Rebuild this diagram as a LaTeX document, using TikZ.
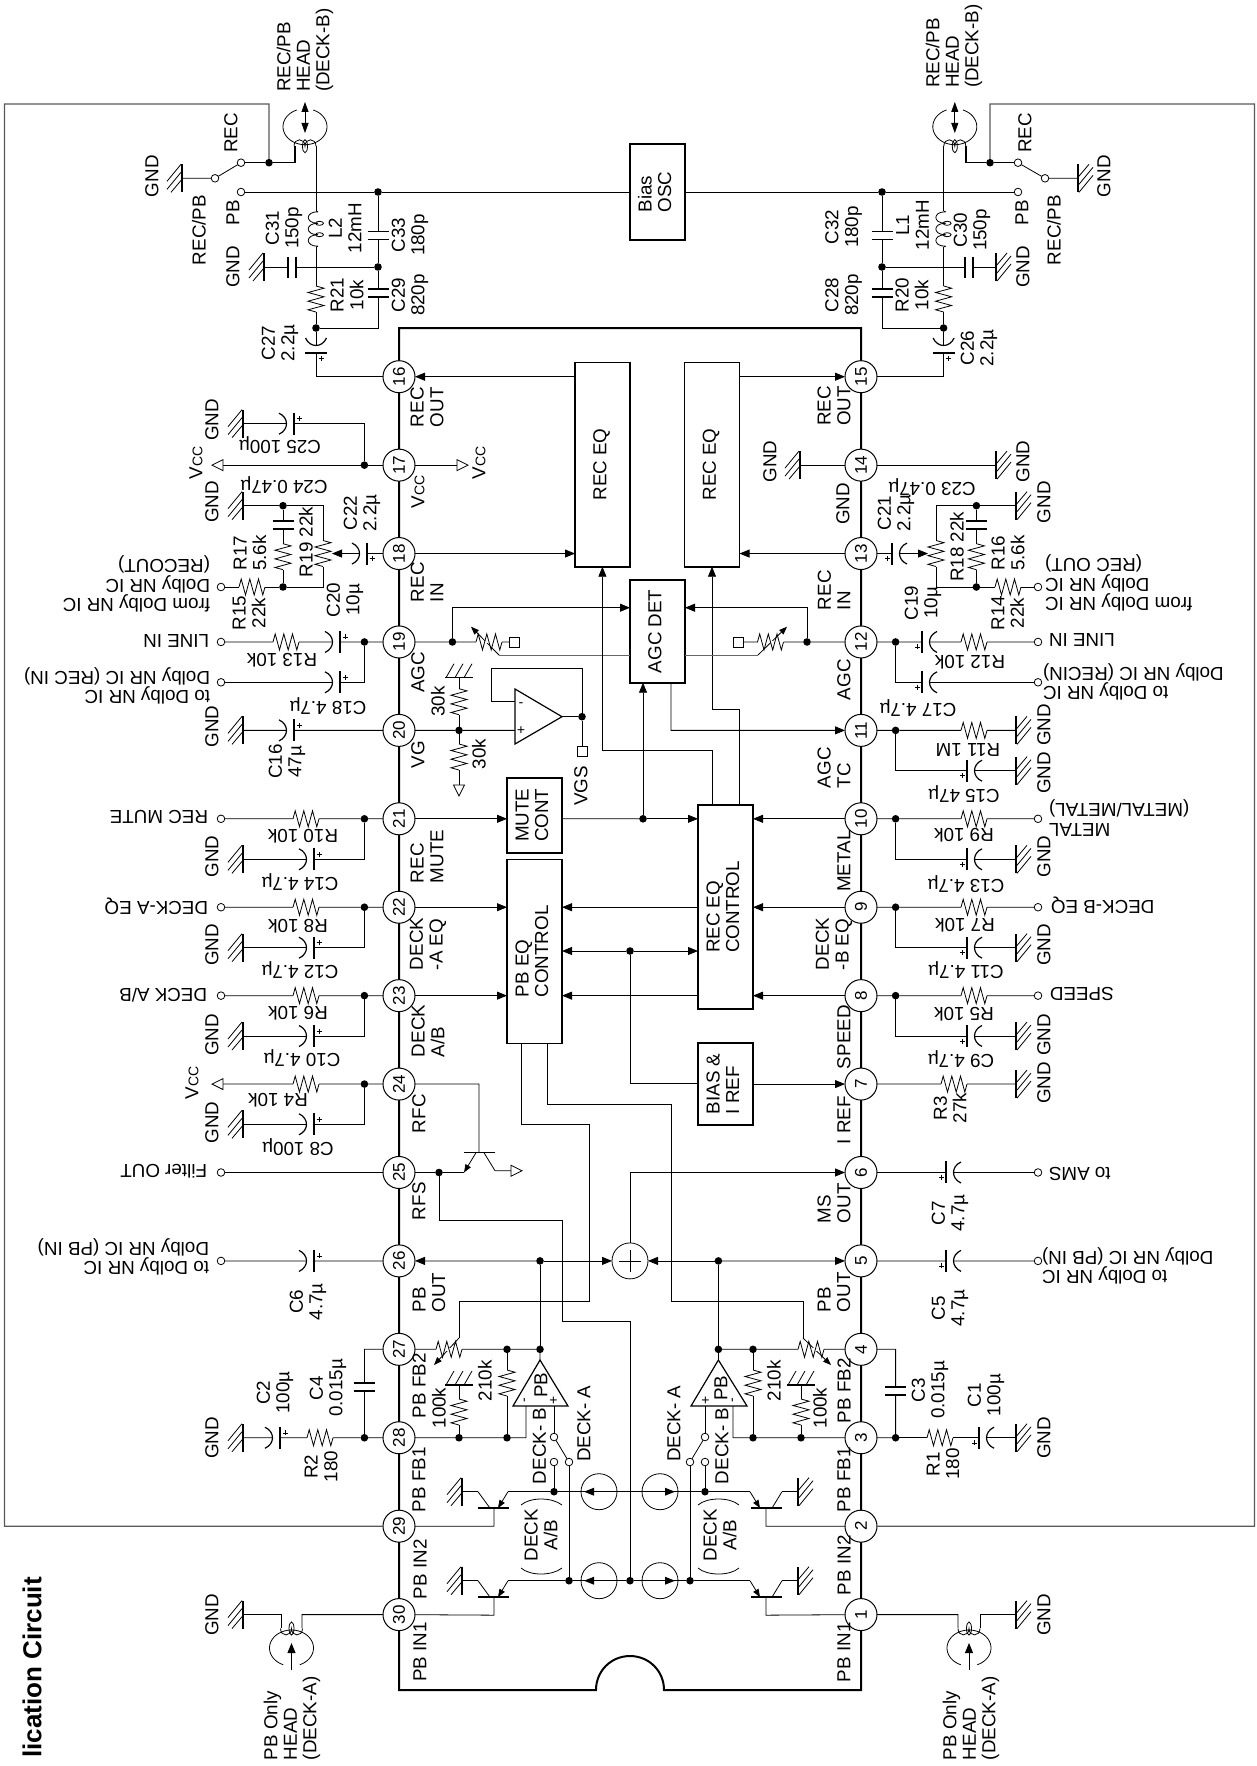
\documentclass[tikz,border=0pt]{standalone}
\usepackage{fontspec}
\setmainfont{Liberation Sans}
\usetikzlibrary{arrows.meta,calc}
\newcount\tn
\newcommand\lf{\fontsize{18.8}{19.6}\selectfont}
\newcommand\VccT{V{\fontsize{14}{14}\selectfont CC}}
\tikzset{
 arr/.style={-{Triangle[length=10pt,width=8pt]}},
 arrs/.style={-{Triangle[length=8pt,width=6pt]}},
 gbox/.style={draw=black!65,line width=1.2pt},
 jn/.style={circle,fill=black,inner sep=0pt,outer sep=0pt,minimum size=7.6pt},
 term/.style={circle,draw,fill=white,inner sep=0pt,outer sep=0pt,minimum size=7.6pt},
 sq/.style={rectangle,draw,fill=white,inner sep=0pt,outer sep=0pt,minimum size=10pt},
 ppin/.style={circle,draw,fill=white,inner sep=0pt,outer sep=0pt,minimum size=32pt,font=\fontsize{17}{17}\selectfont,line width=1pt},
 blk/.style={rectangle,draw,line width=1.6pt,inner sep=0pt,outer sep=0pt,font=\lf,minimum width=55pt},
 srcn/.style={circle,draw,inner sep=0pt,outer sep=0pt,minimum size=36pt},
 lab/.style={font=\lf,inner sep=0pt,outer sep=0pt},
 plate/.style={line width=1.5pt},
 amp/.style={line width=1.2pt},
}
% text
\newcommand\TU[3]{\global\advance\tn by 1\relax\node[lab,rotate=90,anchor=west,align=left] (t\the\tn) at (#1,#2) {#3};}
\newcommand\TC[3]{\global\advance\tn by 1\relax\node[lab,rotate=90,anchor=center,align=center] (t\the\tn) at (#1,#2) {#3};}
\newcommand\TD[3]{\global\advance\tn by 1\relax\node[lab,rotate=180,anchor=center,align=center] (t\the\tn) at (#1,#2) {#3};}
\newcommand\TDr[3]{\global\advance\tn by 1\relax\node[lab,rotate=180,anchor=west,align=left] (t\the\tn) at (#1,#2) {#3};}
\newcommand\TDl[3]{\global\advance\tn by 1\relax\node[lab,rotate=180,anchor=east,align=right] (t\the\tn) at (#1,#2) {#3};}
\newcommand\Rt[1]{\rotatebox{90}{\begin{tabular}{@{}l@{}}#1\end{tabular}}}
% named parts
\newcommand\Jn[3]{\node[jn] (#1) at (#2,#3) {};}
\newcommand\Tm[3]{\node[term] (#1) at (#2,#3) {};}
\newcommand\Gl[3]{\coordinate (#1) at (#2,#3);\begin{scope}[shift={(#2,#3)}]\draw[line width=1.3pt](0,-14)--(0,14);\draw(-1,-14)--(-15,3)(-1,-6)--(-15,11)(0,1)--(-11,14);\end{scope}}
\newcommand\Gr[3]{\coordinate (#1) at (#2,#3);\begin{scope}[shift={(#2,#3)},rotate=180]\draw[line width=1.3pt](0,-14)--(0,14);\draw(-1,-14)--(-15,3)(-1,-6)--(-15,11)(0,1)--(-11,14);\end{scope}}
\newcommand\Gv[3]{\coordinate (#1) at (#2,#3);\begin{scope}[shift={(#2,#3)}]\draw[line width=1.3pt](-14,0)--(14,0);\draw(-13,0)--(-5,-14)(-4,0)--(4,-14)(5,0)--(13,-14);\end{scope}}
% inline parts
\newcommand\Rh[2]{\begin{scope}[shift={(#1,#2)}]\fill[white](-13,-1.2)rectangle(13,1.2);\draw(-13,0)--(-10.8,-8)--(-6.5,8)--(-2.2,-8)--(2.2,8)--(6.5,-8)--(10.8,8)--(13,0);\end{scope}}
\newcommand\Rv[2]{\begin{scope}[shift={(#1,#2)}]\fill[white](-1.2,-13)rectangle(1.2,13);\draw(0,-13)--(8,-10.8)--(-8,-6.5)--(8,-2.2)--(-8,2.2)--(8,6.5)--(-8,10.8)--(0,13);\end{scope}}
\newcommand\Ch[2]{\begin{scope}[shift={(#1,#2)}]\fill[white](-4,-1.2)rectangle(4,1.2);\draw[plate](-4,-10.5)--(-4,10.5)(4,-10.5)--(4,10.5);\end{scope}}
\newcommand\Cv[2]{\begin{scope}[shift={(#1,#2)}]\fill[white](-1.2,-4)rectangle(1.2,4);\draw[plate](-10.5,-4)--(10.5,-4)(-10.5,4)--(10.5,4);\end{scope}}
\newcommand\PCh[4]{\begin{scope}[shift={(#1,#2)},xscale=#3]\fill[white](-7.5,-1.2)rectangle(0,1.2);\draw[plate](0,-11)--(0,11);\draw[line width=1.2pt](-15,-10.5)..controls(-5,-6)and(-5,6)..(-15,10.5);\draw[line width=.45pt](2.5,#4*5)--(7.5,#4*5)(5,#4*5-2.5)--(5,#4*5+2.5);\end{scope}}
\newcommand\PCv[2]{\begin{scope}[shift={(#1,#2)}]\fill[white](-1.2,-7.5)rectangle(1.2,0);\draw[plate](-11,0)--(11,0);\draw[line width=1.2pt](-10.5,-15)..controls(-6,-5)and(6,-5)..(10.5,-15);\draw[line width=.45pt](2.5,5)--(7.5,5)(5,2.5)--(5,7.5);\end{scope}}
\newcommand\Lv[2]{\begin{scope}[shift={(#1,#2)}]\fill[white](-1.2,-18)rectangle(1.2,18);\foreach \c in {-11.5,0,11.5}{\draw(2,\c-5.7)..controls(-11,\c-6)and(-11,\c+6)..(2,\c+5.7);}\foreach \c in {-5.7,5.7}{\draw(3.5,\c) ellipse (4 and 2);}\draw(0,-18)--(2,-17.2)(0,18)--(2,17.2);\end{scope}}
\newcommand\VT[3]{\begin{scope}[shift={(#1,#2)}]\draw[fill=white](0,-5.5)--(0,5.5)--(#3,0)--cycle;\end{scope}}
\newcommand\Head[3]{\begin{scope}[shift={(#1,#2)},yscale=#3]\draw plot[domain=-68:248,samples=50,smooth]({22*cos(\x)},{18*sin(\x)});\draw(-11,19.5)..controls(-11,11)and(0,11)..(0,19.5)..controls(0,11)and(11,11)..(11,19.5);\draw(0,19.5) ellipse (2.5 and 6.5);\end{scope}}
\newcommand\QL[2]{\begin{scope}[shift={(0,#1)}]\draw[line width=1.5pt](478,16.4)--(509,16.4);\draw[arrs](508,0)--(498,16.4);\draw(490,16.4)--(478,0);\end{scope}\draw (494,#1+16.4)--(494,#1+34.46)--(#2);}
\newcommand\QR[2]{\begin{scope}[shift={(0,#1)}]\draw[line width=1.5pt](751,16.4)--(782,16.4);\draw[arrs](750,0)--(760,16.4);\draw(772,16.4)--(782,0);\end{scope}\draw (766,#1+16.4)--(766,#1+34.46)--(#2);}
\begin{document}
\begin{tikzpicture}[x=1pt,y=-1pt,line width=.8pt]
\useasboundingbox (0,0) rectangle (1256,1766);
% IC body
\draw[line width=2pt] (399,328)--(861,328)--(861,1690)--(664,1690)..controls(664,1671)and(649,1656)..(630,1656)..controls(611,1656)and(596,1671)..(596,1690)--(399,1690)--cycle;
% pins
\foreach \n in {16,...,30}{\pgfmathsetmacro\yy{376.7+(\n-16)*88.42}\node[ppin] (p\n) at (399,\yy) {\rotatebox{90}{\n}};}
\foreach \n in {1,...,15}{\pgfmathsetmacro\yy{376.7+(15-\n)*88.42}\node[ppin] (p\n) at (861,\yy) {\rotatebox{90}{\n}};}
% blocks
\node[blk,minimum height=204.4pt] (recL) at (602.5,464.5) {\Rt{REC EQ}};
\node[blk,minimum height=204.4pt] (recR) at (712,464.5) {\Rt{REC EQ}};
\node[blk,minimum height=102.7pt] (agc) at (657.5,631.35) {\Rt{AGC DET}};
\node[blk,minimum height=96pt] (bias) at (657.5,192) {\Rt{Bias\\OSC}};
\node[blk,minimum height=75pt] (mute) at (534.5,815.2) {\Rt{MUTE\\CONT}};
\node[blk,minimum height=184pt] (pbeq) at (534.5,951.3) {\Rt{PB EQ\\CONTROL}};
\node[blk,minimum height=204pt] (receq) at (725.5,907) {\Rt{REC EQ\\CONTROL}};
\node[blk,minimum height=82.3pt] (biasref) at (725.5,1083.85) {\Rt{BIAS \&\\I REF}};
\node[srcn] (sum) at (630,1260.9) {};
\node[srcn] (cs1) at (599,1491.7) {};
\node[srcn] (cs2) at (660,1491.7) {};
\node[srcn] (cs3) at (599,1580.7) {};
\node[srcn] (cs4) at (660,1580.7) {};
% junctions left
\Jn{jL}{269}{162.7}\Jn{jB}{378}{192}\Jn{jC}{378}{267}\Jn{jD}{316}{328}\Jn{j17}{364.4}{465.12}
\Jn{jE}{283}{505.7}\Jn{jF}{283}{587}\Jn{j19}{364.4}{641.96}\Jn{jAg}{452.4}{641.96}\Jn{j20}{459}{730.38}
\Jn{joa}{582}{716.7}\Jn{j21}{364.4}{818.8}\Jn{j22}{364.4}{907.22}\Jn{j23}{364.4}{995.64}\Jn{j24}{364.4}{1084.06}
\Jn{j25}{439}{1172.48}\Jn{j26}{540}{1260.9}\Jn{j27a}{507}{1349.32}\Jn{j27b}{540}{1349.32}\Jn{j28}{364.4}{1437.74}
\Jn{j28b}{459}{1437.74}\Jn{j28c}{507}{1437.74}\Jn{jq2}{554}{1491.7}\Jn{jq1}{569}{1580.7}\Jn{jm}{630}{1580.7}
\Jn{jc}{630}{951}\Jn{jm2}{643}{818.8}
% junctions right
\Jn{jRs}{990}{162.7}\Jn{jRB}{882}{192}\Jn{jRC}{882}{267}\Jn{jRD}{943.6}{328}\Jn{jr12}{895.6}{641.96}\Jn{jr11}{895.6}{730.38}
\Jn{jr10}{895.6}{818.8}\Jn{jr9}{895.6}{907.22}\Jn{jr8}{895.6}{995.64}\Jn{jr3}{895.6}{1437.74}\Jn{jRE}{976.4}{505.7}\Jn{jRF}{976.4}{587}
\Jn{jAg2}{807}{641.96}\Jn{jr5}{718.4}{1260.9}\Jn{jr4a}{753}{1349.32}\Jn{jr4b}{718.4}{1349.32}\Jn{jr3b}{801}{1437.74}\Jn{jr3c}{753}{1437.74}
\Jn{jrq2}{705}{1491.7}\Jn{jrq1}{690}{1580.7}
% terminals
\Tm{tREC}{241}{162.7}\Tm{tPB}{241}{192}\Tm{tPiv}{215}{178.3}\Tm{t18}{221}{587}\Tm{t19}{221}{641.96}\Tm{t19b}{221}{682.3}
\Tm{t21}{221}{818.8}\Tm{t22}{221}{907.22}\Tm{t23}{221}{995.64}\Tm{t25}{221}{1172.48}\Tm{t26}{221}{1260.9}
\Tm{rREC}{1018}{162.7}\Tm{rPB}{1018}{192}\Tm{rPiv}{1045}{178.3}\Tm{r13}{1038}{587}\Tm{r12}{1038}{641.96}\Tm{r12b}{1038}{682.3}
\Tm{r10}{1038}{818.8}\Tm{r9}{1038}{907.22}\Tm{r8}{1038}{995.64}\Tm{r6}{1038}{1172.48}\Tm{r5}{1038}{1260.9}
\Tm{tSp}{554}{1437}\Tm{tSa}{569}{1462}\Tm{tSb}{554}{1462}\Tm{rSp}{705}{1437}\Tm{rSa}{690}{1462}\Tm{rSb}{705}{1462}
\node[sq] (s19) at (514,641.96) {};
\node[sq] (s12) at (738.5,641.96) {};
\node[sq] (s20) at (582,751) {};
% grounds
\Gl{gSw}{182}{178.3}\Gl{g31}{264}{267}\Gl{g25}{243}{423.7}\Gl{g24}{243}{505.7}\Gl{g20}{243}{730.38}\Gl{gC14}{243}{859.3}\Gl{gC12}{243}{947.7}
\Gl{gC10}{243}{1036}\Gl{gC8}{243}{1124.3}\Gl{gC2}{243}{1437.74}\Gl{g30}{243}{1614.58}\Gl{gq2}{462}{1491.7}\Gl{gq1}{462}{1580.7}\Gl{g14L}{800}{465.12}
\Gv{g30k}{459}{677.7}\Gv{g100}{459}{1385}\Gv{gr100}{801}{1385}
\Gr{gRSw}{1078}{178.3}\Gr{gC30}{996}{267}\Gr{g14R}{996}{465.12}\Gr{gC23}{1016}{505.7}\Gr{gR11}{1016}{730.38}\Gr{gC15}{1016}{770.7}
\Gr{gC13}{1016}{859.3}\Gr{gC11}{1016}{947.7}\Gr{gC9}{1016}{1036}\Gr{gR3}{1016}{1084.06}\Gr{gC1}{1016}{1437.74}\Gr{g1}{1016}{1614.58}\Gr{grq2}{798}{1491.7}\Gr{grq1}{798}{1580.7}
% outer box
\draw[gbox] (p29)--(4.5,1526.16)--(4.5,104)--(269,104)--(jL);
\draw[gbox] (p2)--(1254.5,1526.16)--(1254.5,104)--(990,104)--(jRs);
% top left
\draw (gSw)--(tPiv)--(tREC);
\draw[line width=1.2pt] (tREC)--(jL)--(295,162.7)--(295,146);
\draw (tPB)--(jB)--(bias.west);
\draw (316,146)--(jD);
\draw (jB)--(jC)--(378,328)--(jD);
\draw (jC)--(g31);
\draw (jD)--(316,376.7)--(p16);
\draw[arr] (recL.west |- p16)--(p16);
% 17
\draw (g25)--(364.4,423.7)--(j17);
\draw (p17)--(j17)--(223,465.12);
\draw (p17)--(457,465.12);
% 18
\draw (g24)--(jE)--(323,505.7)--(323,587)--(jF)--(t18);
\draw (jE)--(jF);
\draw[arr] (p18)--(332,553.54);
\draw[arr] (p18)--(p18 -| recL.west);
% 19
\draw (t19)--(j19)--(p19);
\draw (t19b)--(364.4,682.3)--(j19);
\draw (p19)--(jAg)--(s19);
\draw[arr] (jAg) |- (agc.west |- 0,607.7);
\draw[draw=black!60] (agc.west |- 0,655)--(499,655);
\draw[arrs] (499,655)--(471,626.7);
% 20
\draw (g20)--(p20);
\draw (p20)--(j20)--(515,730.38);
\draw (j20)--(g30k);
\draw (j20)--(459,785);
\draw[amp] (515,689)--(562,716.7)--(515,744)--cycle;
\draw (562,716.7)--(joa)--(s20);
\draw (joa)--(582,668.3)--(491,668.3)--(491,701.7)--(515,701.7);
% 21-23
\draw (t21)--(j21)--(p21);
\draw (j21) |- (gC14);
\draw[arr] (p21)--(p21 -| mute.west);
\draw (p21 -| mute.east)--(jm2);
\draw[arr] (jm2)--(jm2 -| receq.west);
\draw[arr] (jm2)--(jm2 |- agc.south);
\draw (t22)--(j22)--(p22);
\draw (j22) |- (gC12);
\draw[arr] (p22)--(p22 -| pbeq.west);
\draw (t23)--(j23)--(p23);
\draw (j23) |- (gC10);
\draw[arr] (p23)--(p23 -| pbeq.west);
% 24,25
\draw (223,1084.06)--(j24)--(p24);
\draw (j24) |- (gC8);
\draw (p24)--(479,1084.06)--(479,1152.7);
\draw (t25)--(p25);
\draw (p25)--(j25)--(464,1172.48);
\draw[line width=1.5pt] (464,1152.7)--(495,1152.7);
\draw[arrs] (476,1152.7)--(464,1172.48);
\draw (484,1152.7)--(495,1170.7)--(511,1170.7);
\draw (j25)--(439,1220)--(562,1220)--(562,1321.7)--(630,1321.7)--(jm);
% 26
\draw (t26)--(p26);
\draw[arr] (j26)--(p26);
\draw[arr] (j26)--(sum);
\draw (j26)--(j27b);
\draw (sum.north)--(sum.north |- p6);
\draw[arr] (sum.north |- p6)--(p6);
\draw (p6)--(r6);
\draw (p5)--(r5);
\draw[arr] (jr5)--(p5);
\draw[arr] (jr5)--(sum);
\draw (jr5)--(jr4b);
% central right
\draw (biasref.west)--(630,1083.85)--(jc);
\draw[arr] (jc)--(jc -| pbeq.east);
\draw[arr] (jc)--(jc -| receq.west);
\draw[arr] (p9 -| receq.west)--(p9 -| pbeq.east);
\draw[arr] (p8 -| receq.west)--(p8 -| pbeq.east);
\draw[arr] (p10)--(p10 -| receq.east);
\draw[arr] (p9)--(p9 -| receq.east);
\draw[arr] (p8)--(p8 -| receq.east);
\draw[arr] (biasref.east |- p7)--(p7);
\draw (pbeq.south -| 521,0)--(521,1124)--(589,1124)--(589,1301.7)--(459,1301.7)--(459,1338);
\draw (pbeq.south -| 547,0)--(547,1104)--(671,1104)--(671,1301.7)--(803,1301.7)--(803,1338);
\draw[arrs] (459,1338)--(434,1365);
\draw[arrs] (803,1338)--(831,1365);
\draw[arr] (receq.north -| 712,0)--(712,750.7)--(602.4,750.7)--(recL.south -| 602.4,0);
\draw[arr] (receq.north -| 739,0)--(739,709.3)--(712,709.3)--(recR.south -| 712,0);
\draw[arr] (agc.south -| 671,0)--(671,730.38)--(p11);
% PB left
\draw (p27)--(364.4,1349.32)--(j28);
\draw (p27)--(j27a)--(j27b)--(540,1360);
\draw (j27a)--(j28c);
\draw (gC2)--(j28)--(p28);
\draw (p28)--(j28b)--(j28c)--(526,1437.74)--(526,1406);
\draw (j28b)--(g100);
\draw[amp] (513,1406)--(540,1360)--(568,1406)--cycle;
\draw (554,1406)--(tSp);
\draw (tSp)--(tSa);
\draw (tSb)--(jq2);
\draw (tSa)--(jq1);
\draw (jq2)--(jrq2);
\draw (jq1)--(jm)--(jrq1);
\draw (jq2)--(508,1491.7);
\draw (gq2)--(478,1491.7);
\draw (jq1)--(508,1580.7);
\draw (gq1)--(478,1580.7);
\QL{1491.7}{p29}
\QL{1580.7}{p30}
% PB right
\draw (p3)--(jr3);
\draw (jr3)--(gC1);
\draw (jr3)--(895.6,1349.32)--(p4);
\draw (p4)--(jr4a)--(jr4b)--(718.4,1360);
\draw (jr4a)--(jr3c);
\draw (p3)--(jr3b)--(jr3c)--(733,1437.74)--(733,1406);
\draw (jr3b)--(gr100);
\draw[amp] (691,1406)--(718.4,1360)--(747,1406)--cycle;
\draw (705,1406)--(rSp);
\draw (rSp)--(rSa);
\draw (rSb)--(jrq2);
\draw (rSa)--(jrq1);
\draw (jrq2)--(750,1491.7);
\draw (grq2)--(782,1491.7);
\draw (jrq1)--(750,1580.7);
\draw (grq1)--(782,1580.7);
\QR{1491.7}{p2}
\QR{1580.7}{p1}
% heads lower
\draw (g30)--(281,1614.58)--(281,1628);
\draw (p30)--(302,1614.58)--(302,1628);
\draw (g1)--(980,1614.58)--(980,1628);
\draw (p1)--(958,1614.58)--(958,1628);
\Head{291.5}{1648}{-1}
\Head{969}{1648}{-1}
\draw[arr] (291.5,1670)--(291.5,1643);
\draw[arr] (969,1670)--(969,1643);
% top right
\draw (gRSw)--(rPiv)--(rREC);
\draw[line width=1.2pt] (rREC)--(jRs)--(966,162.7)--(966,146);
\draw (bias.east)--(jRB)--(rPB);
\draw (943.6,146)--(jRD);
\draw (jRB)--(jRC)--(882,328)--(jRD);
\draw (jRC)--(gC30);
\draw (jRD)--(943.6,376.7)--(p15);
\draw[arr] (recR.east |- p15)--(p15);
\Head{305}{126.7}{1}
\Head{954.8}{126.7}{1}
\draw[{Triangle[length=10pt,width=7pt]}-{Triangle[length=10pt,width=7pt]}] (305,102)--(305,133);
\draw[{Triangle[length=10pt,width=7pt]}-{Triangle[length=10pt,width=7pt]}] (954.8,102)--(954.8,133);
% right rows
\draw (g14L)--(p14);
\draw (p14)--(g14R);
\draw[arr] (p13)--(p13 -| recR.east);
\draw[arr] (p13)--(928,553.54);
\draw (gC23)--(jRE)--(936,505.7)--(936,587)--(jRF)--(r13);
\draw (jRE)--(jRF);
\draw (r12)--(jr12)--(p12);
\draw (jr12)--(895.6,682.3)--(r12b);
\draw (p12)--(jAg2)--(s12);
\draw[arr] (jAg2) |- (agc.east |- 0,607.7);
\draw[draw=black!60] (agc.east |- 0,655)--(758,655);
\draw[arrs] (758,655)--(787,626.7);
\draw (p11)--(jr11)--(gR11);
\draw (jr11) |- (gC15);
\draw (p10)--(jr10)--(r10);
\draw (jr10) |- (gC13);
\draw (p9)--(jr9)--(r9);
\draw (jr9) |- (gC11);
\draw (p8)--(jr8)--(r8);
\draw (jr8) |- (gC9);
\draw (p7)--(gR3);
% source arrows
\foreach \yy in {1491.7,1580.7}{
\begin{scope}[shift={(0,\yy)}]
\fill (584,0)--(594,-4)--(594,4)--cycle;
\fill (675,0)--(665,-4)--(665,4)--cycle;
\end{scope}}
\draw[line width=.5pt] (619,1260.9)--(641,1260.9)(630,1250)--(630,1272);
% open triangles
\VT{223}{465.12}{-11}
\VT{457}{465.12}{11}
\VT{223}{1084.06}{-11}
\VT{511}{1170.7}{11}
\draw[fill=white] (453.5,785)--(464.5,785)--(459,796)--cycle;
% parens
\draw (521,1505)..controls(530,1497)and(552,1497)..(562,1505);
\draw (521,1568)..controls(530,1576)and(552,1576)..(562,1568);
\draw (698,1505)..controls(707,1497)and(730,1497)..(739,1505);
\draw (698,1568)..controls(707,1576)and(730,1576)..(739,1568);
% resistors
\Rv{316}{299}\Rv{943.6}{299}
\Rv{323}{553.5}\Rv{283}{556.7}\Rh{252}{587}\Rh{286}{641.96}
\Rv{459}{701.7}\Rv{459}{757}
\Rh{306}{818.8}\Rh{306}{907.22}\Rh{306}{995.64}\Rh{306}{1084.06}
\Rh{449}{1349.32}\Rv{507}{1383}\Rv{459}{1412}\Rh{320}{1437.74}
\Rh{489}{641.96}\Rh{770.5}{641.96}
\Rv{936}{553.5}\Rv{976.4}{556.7}\Rh{1008}{587}\Rh{974}{641.96}\Rh{974}{730.38}
\Rh{974}{818.8}\Rh{974}{907.22}\Rh{974}{995.64}\Rh{954}{1084.06}
\Rh{811}{1349.32}\Rv{753}{1383}\Rv{801}{1412}\Rh{940}{1437.74}
% inductors
\Lv{316}{229}\Lv{943.6}{229}
% non-polar caps
\Ch{292}{267}\Ch{969}{267}\Cv{378}{235.7}\Cv{378}{293}\Cv{882}{235.7}\Cv{882}{293}
\Cv{283}{525}\Cv{976.4}{525}\Cv{364.4}{1387}\Cv{895.6}{1391}
% polar caps
\PCv{316}{353}\PCv{943.6}{353}
\PCh{294}{423.7}{1}{-1}\PCh{367}{553.54}{1}{1}\PCh{892}{553.54}{-1}{1}
\PCh{340}{641.96}{1}{-1}\PCh{340}{682.3}{1}{-1}\PCh{294}{730.38}{1}{-1}
\PCh{314}{859.3}{1}{-1}\PCh{314}{947.7}{1}{-1}\PCh{314}{1036}{1}{-1}\PCh{314}{1124.3}{1}{-1}\PCh{314}{1260.9}{1}{-1}
\PCh{280}{1437.74}{1}{-1}
\PCh{922}{641.96}{-1}{1}\PCh{922}{682.3}{-1}{1}\PCh{967}{770.7}{-1}{1}\PCh{967}{859.3}{-1}{1}\PCh{967}{947.7}{-1}{1}\PCh{967}{1036}{-1}{1}
\PCh{946}{1172.48}{-1}{1}\PCh{946}{1260.9}{-1}{1}\PCh{979}{1437.74}{-1}{1}
% ---------- texts
\global\advance\tn by 1\relax\node[font=\fontsize{26}{28}\selectfont\bfseries,inner sep=0pt,rotate=90,anchor=east] (t\the\tn) at (32,1576.7) {lication Circuit};
\TU{305}{92}{REC/PB\\HEAD\\(DECK-B)}
\TU{954}{88}{REC/PB\\HEAD\\(DECK-B)}
\TU{292}{1760}{PB Only\\HEAD\\(DECK-A)}
\TU{971}{1760}{PB Only\\HEAD\\(DECK-A)}
\TU{152}{197}{GND}\TU{231}{153}{REC}\TU{233}{225}{PB}\TU{199}{265}{REC/PB}
\TU{1025}{153}{REC}\TU{1104}{197}{GND}\TU{1022}{225}{PB}\TU{1054}{265}{REC/PB}
\TC{233}{267}{GND}\TC{1023}{267}{GND}
\TC{284}{228}{C31\\150p}\TC{345}{228}{L2\\12mH}\TC{410}{235}{C33\\180p}\TC{347}{295}{R21\\10k}\TC{410}{295}{C29\\820p}\TC{280}{343}{C27\\2.2µ}
\TC{843.6}{227}{C32\\180p}\TC{912.5}{225}{L1\\12mH}\TC{972}{230}{C30\\150p}\TC{843.6}{295}{C28\\820p}\TC{912}{295}{R20\\10k}\TC{979}{348}{C26\\2.2µ}
% left column grounds
\TC{212}{420}{GND}\TC{212}{502}{GND}\TC{212}{726.7}{GND}\TC{212}{856.7}{GND}\TC{212}{945}{GND}\TC{212}{1035}{GND}\TC{212}{1122.7}{GND}\TC{212}{1438}{GND}\TC{212}{1615}{GND}
% right column grounds
\TC{770}{461.7}{GND}\TC{1023}{461.7}{GND}\TC{843}{504}{GND}\TC{1044}{502.3}{GND}\TC{1044}{725}{GND}\TC{1044}{773}{GND}\TC{1044}{856.7}{GND}\TC{1044}{945}{GND}\TC{1044}{1035}{GND}\TC{1044}{1083}{GND}\TC{1044}{1438}{GND}\TC{1044}{1615}{GND}
% pin labels left
\TU{427}{427}{REC\\OUT}\TC{418}{492}{\VccT}\TU{427}{602}{REC\\IN}\TU{418}{692.7}{AGC}\TU{418}{768}{VG}\TU{427}{883}{REC\\MUTE}
\TU{428}{970}{DECK\\-A EQ}\TU{428}{1057}{DECK\\A/B}\TU{419}{1133}{RFC}\TU{419}{1220}{RFS}\TU{429}{1312.3}{PB\\OUT}
\TU{419}{1418}{PB FB2}\TU{419}{1512}{PB FB1}\TU{420}{1599}{PB IN2}\TU{420}{1681.7}{PB IN1}
% pin labels right
\TU{834}{425.7}{REC\\OUT}\TU{834}{610}{REC\\IN}\TU{844}{700}{AGC}\TU{834}{788}{AGC\\TC}\TU{844}{891.7}{METAL}\TU{834}{970}{DECK\\-B EQ}
\TU{844}{1069}{SPEED}\TU{844}{1144}{I REF}\TU{834}{1223}{MS\\OUT}\TU{834}{1312}{PB\\OUT}\TU{844}{1423}{PB FB2}\TU{844}{1512}{PB FB1}\TU{844}{1595}{PB IN2}\TU{844}{1682}{PB IN1}
% Vcc
\TC{196}{463}{\VccT}\TC{479}{463}{\VccT}\TC{192}{1082.7}{\VccT}
% left values
\TD{280}{445}{C25 100µ}\TD{284}{485}{C24 0.47µ}\TD{282}{660.7}{R13 10k}\TD{328}{706}{C18 4.7µ}
\TD{303}{836.7}{R10 10k}\TD{300}{881.7}{C14 4.7µ}\TD{298}{926}{R8 10k}\TD{300}{970}{C12 4.7µ}\TD{298}{1013.3}{R6 10k}\TD{302}{1058}{C10 4.7µ}\TD{278}{1100.7}{R4 10k}\TD{298}{1146.7}{C8 100µ}
\TC{362}{513}{C22\\2.2µ}\TC{250}{553}{R17\\5.6k}\TC{306}{542}{R19 22k}\TC{345}{600}{C20\\10µ}\TC{249}{613}{R15\\22k}\TC{287}{761.7}{C16\\47µ}
\TC{438}{701.7}{30k}\TC{479}{754}{30k}\TC{581}{785.7}{VGS}
\TC{308}{1301.7}{C6\\4.7µ}\TC{328}{1388}{C4\\0.015µ}\TC{275}{1392.7}{C2\\100µ}\TC{321}{1466.7}{R2\\180}
\TC{439}{1408}{100k}\TC{485}{1380.7}{210k}
\TU{539.5}{1484}{DECK- B}\TU{584}{1461.7}{DECK- A}\TC{541}{1535}{DECK\\A/B}\TC{541}{1385}{PB}
\TC{526}{1400}{\fontsize{14}{14}\selectfont -}\TC{554}{1400}{\fontsize{14}{14}\selectfont +}
\TD{521}{701.7}{\fontsize{14}{14}\selectfont -}\TD{521}{730}{\fontsize{14}{14}\selectfont +}
% left terminal text
\TDr{210}{584}{from Dolby NR IC\\Dolby NR IC\\(RECOUT)}
\TDr{209}{640.7}{LINE IN}
\TDr{210}{686}{to Dolby NR IC\\Dolby NR IC (REC IN)}
\TDr{208}{816.7}{REC MUTE}\TDr{208}{906.7}{DECK-A EQ}\TDr{207}{995}{DECK A/B}\TDr{207}{1171.7}{Filter OUT}
\TDr{209}{1257}{to Dolby NR IC\\Dolby NR IC (PB IN)}
% right values
\TD{932}{486.7}{C23 0.47µ}\TC{896}{513}{C21\\2.2µ}\TC{957}{546.7}{R18 22k}\TC{1008}{553}{R16\\5.6k}\TC{1007.6}{613}{R14\\22k}\TC{923}{603}{C19\\10µ}
\TD{970}{662}{R12 10k}\TD{918}{708}{C17 4.7µ}\TD{968}{750}{R11 1M}\TD{964}{794}{C15 47µ}\TD{964}{835.7}{R9 10k}\TD{966}{884}{C13 4.7µ}
\TD{965}{925}{R7 10k}\TD{966}{970}{C11 4.7µ}\TD{964}{1014}{R5 10k}\TD{961}{1059}{C9 4.7µ}
\TC{950}{1108}{R3\\27k}\TC{950}{1213}{C7\\4.7µ}\TC{950}{1308}{C5\\4.7µ}\TC{930}{1390}{C3\\0.015µ}\TC{986}{1395}{C1\\100µ}\TC{943}{1464}{R1\\180}
\TC{774}{1380.7}{210k}\TC{820}{1408}{100k}
\TU{722}{1484}{DECK- B}\TU{674}{1461.7}{DECK- A}\TC{720}{1535}{DECK\\A/B}\TC{721}{1388}{PB}
\TC{706}{1400}{\fontsize{14}{14}\selectfont +}\TC{734}{1400}{\fontsize{14}{14}\selectfont -}
% right terminal text
\TDl{1045}{583}{from Dolby NR IC\\Dolby NR IC\\(REC OUT)}
\TDl{1049}{640}{LINE IN}
\TDl{1043}{681.7}{to Dolby NR IC\\Dolby NR IC (RECIN)}
\TDl{1049}{818}{METAL\\(METAL/METAL)}
\TDl{1051}{905}{DECK-B EQ}\TDl{1050}{994}{SPEED}\TDl{1049}{1174}{to AMS}
\TDl{1042}{1266}{to Dolby NR IC\\Dolby NR IC (PB IN)}
\end{tikzpicture}
\end{document}
